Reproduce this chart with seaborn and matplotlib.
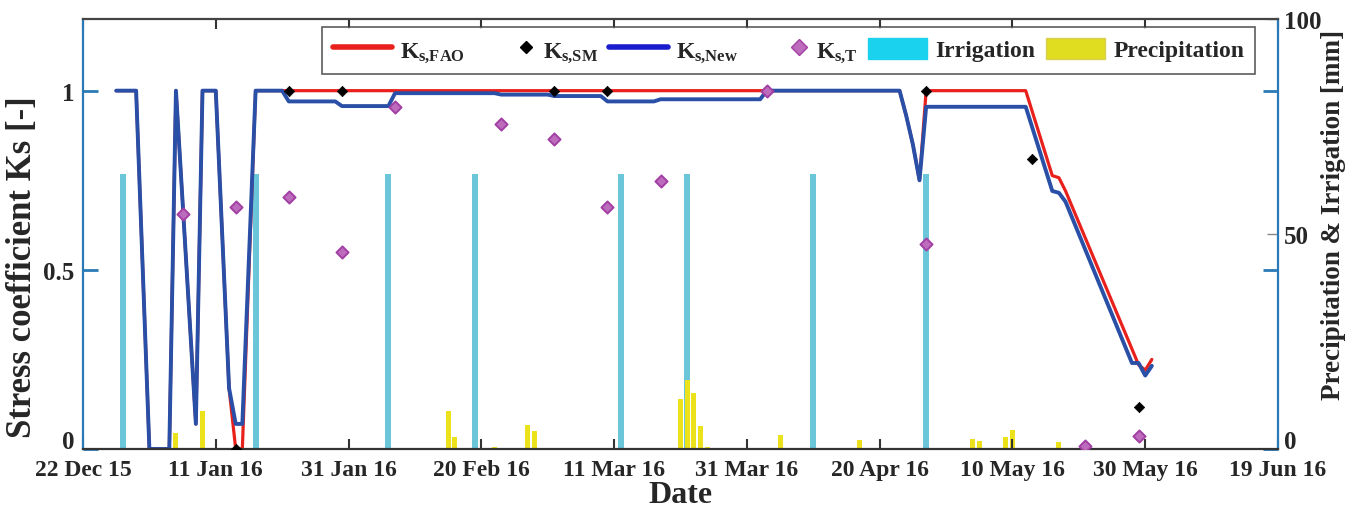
import matplotlib
matplotlib.use("Agg")
import matplotlib.pyplot as plt
import seaborn as sns
import pandas as pd
import numpy as np
from matplotlib.lines import Line2D
from matplotlib.patches import Patch
from matplotlib.legend_handler import HandlerLine2D
from matplotlib.transforms import ScaledTranslation

# ---- data ----
season_start = "2015-12-22"

tick_dates = ["2015-12-22", "2016-01-11", "2016-01-31", "2016-02-20", "2016-03-11",
              "2016-03-31", "2016-04-20", "2016-05-10", "2016-05-30", "2016-06-19"]
tick_labels = ["22 Dec 15", "11 Jan 16", "31 Jan 16", "20 Feb 16", "11 Mar 16",
               "31 Mar 16", "20 Apr 16", "10 May 16", "30 May 16", "19 Jun 16"]

# Ks,New (blue) breakpoints
new_dates = ["2015-12-27", "2015-12-30", "2016-01-01", "2016-01-04", "2016-01-05",
             "2016-01-08", "2016-01-09", "2016-01-11", "2016-01-13", "2016-01-14",
             "2016-01-15", "2016-01-17", "2016-01-21", "2016-01-22", "2016-01-29",
             "2016-01-30", "2016-02-06", "2016-02-07", "2016-02-22", "2016-02-23",
             "2016-03-01", "2016-03-02", "2016-03-09", "2016-03-10", "2016-03-17",
             "2016-03-18", "2016-04-02", "2016-04-03", "2016-04-23", "2016-04-24",
             "2016-04-25", "2016-04-26", "2016-04-27", "2016-05-12", "2016-05-16",
             "2016-05-17", "2016-05-18", "2016-05-28", "2016-05-29", "2016-05-30",
             "2016-05-31"]
new_ks = [1.0, 1.0, 0.0, 0.0, 1.0,
          0.07, 1.0, 1.0, 0.17, 0.07,
          0.07, 1.0, 1.0, 0.97, 0.97,
          0.957, 0.957, 0.993, 0.993, 0.989,
          0.989, 0.985, 0.985, 0.97, 0.97,
          0.976, 0.976, 1.0, 1.0, 0.93,
          0.85, 0.75, 0.955, 0.955, 0.72,
          0.715, 0.69, 0.24, 0.24, 0.205,
          0.232]

# Ks,FAO (red) breakpoints
fao_dates = ["2015-12-27", "2015-12-30", "2016-01-01", "2016-01-04", "2016-01-05",
             "2016-01-08", "2016-01-09", "2016-01-11", "2016-01-13", "2016-01-14",
             "2016-01-15", "2016-01-17", "2016-04-23", "2016-04-24", "2016-04-25",
             "2016-04-26", "2016-04-27", "2016-05-12", "2016-05-16", "2016-05-17",
             "2016-05-18", "2016-05-29", "2016-05-30", "2016-05-31"]
fao_ks = [1.0, 1.0, 0.0, 0.0, 1.0,
          0.07, 1.0, 1.0, 0.17, 0.0,
          0.0, 1.0, 1.0, 0.93, 0.85,
          0.75, 1.0, 1.0, 0.763, 0.757,
          0.72, 0.235, 0.22, 0.25]

# Ks,SM (black diamonds)
sm_dates = ["2016-01-14", "2016-01-22", "2016-01-30", "2016-03-02", "2016-03-10",
            "2016-04-27", "2016-05-13", "2016-05-29"]
sm_ks = [0.0, 1.0, 1.0, 1.0, 1.0, 1.0, 0.81, 0.117]

# Ks,T (magenta diamonds)
t_dates = ["2016-01-06", "2016-01-14", "2016-01-22", "2016-01-30", "2016-02-07",
           "2016-02-23", "2016-03-02", "2016-03-10", "2016-03-18", "2016-04-03",
           "2016-04-27", "2016-05-21", "2016-05-29"]
t_ks = [0.656, 0.676, 0.704, 0.55, 0.955,
        0.908, 0.866, 0.676, 0.749, 1.0,
        0.573, 0.008, 0.036]

# irrigation [mm]
irr_dates = ["2015-12-28", "2016-01-17", "2016-02-06", "2016-02-19",
             "2016-03-12", "2016-03-22", "2016-04-10", "2016-04-27"]
irr_mm = [64, 64, 64, 64, 64, 64, 64, 64]

# precipitation [mm]
rain_dates = ["2016-01-05", "2016-01-07", "2016-01-09", "2016-01-11", "2016-02-15",
              "2016-02-16", "2016-02-18", "2016-02-22", "2016-02-27", "2016-02-28",
              "2016-03-03", "2016-03-08", "2016-03-21", "2016-03-22", "2016-03-23",
              "2016-03-24", "2016-03-25", "2016-03-29", "2016-04-05", "2016-04-06",
              "2016-04-08", "2016-04-17", "2016-05-04", "2016-05-05", "2016-05-08",
              "2016-05-09", "2016-05-10", "2016-05-17"]
rain_mm = [3.7, 0.3, 8.8, 0.3, 8.8,
           2.8, 0.3, 0.5, 5.6, 4.2,
           0.3, 0.3, 11.7, 16.0, 13.0,
           5.3, 0.4, 0.3, 3.3, 0.3,
           0.3, 2.0, 2.3, 1.9, 0.3,
           2.8, 4.4, 1.6]


def to_days(dates):
    return (pd.to_datetime(dates) - pd.Timestamp(season_start)).days.to_numpy()


class MarkerRight(HandlerLine2D):
    # put the single legend marker next to its text
    def get_xdata(self, legend, xdescent, ydescent, width, height, fontsize):
        x = -xdescent + width - 0.35 * fontsize
        return np.array([x, x]), np.array([x])


# ---- style ----
sns.set_style("white")
plt.rcParams["font.family"] = ["Liberation Serif", "DejaVu Serif"]
plt.rcParams["font.weight"] = "bold"
plt.rcParams["axes.labelweight"] = "bold"
plt.rcParams["mathtext.fontset"] = "custom"
plt.rcParams["mathtext.rm"] = "Liberation Serif:bold"
plt.rcParams["mathtext.it"] = "Liberation Serif:bold"
plt.rcParams["mathtext.bf"] = "Liberation Serif:bold"

RED = "#e8211d"
BLUE = "#2a4fa6"
CYAN = "#6cc6da"
YELLOW = "#ece21c"
AXBLUE = "#2a7ab8"
T_FACE = "#bd6cbd"
T_EDGE = "#a23fa4"

fig = plt.figure(figsize=(13.58, 5.10), dpi=100)
ax = fig.add_axes([83 / 1358, 60 / 510, 1195 / 1358, 430 / 510])
ax2 = ax.twinx()
ax.set_zorder(ax2.get_zorder() + 1)
ax.patch.set_visible(False)
ax2.patch.set_visible(True)
ax2.patch.set_facecolor("white")

# bars on the right (mm) axis
sns.histplot(x=to_days(irr_dates), weights=irr_mm, discrete=True, shrink=0.9,
             color=CYAN, alpha=1, linewidth=0, ax=ax2)
sns.histplot(x=to_days(rain_dates), weights=rain_mm, discrete=True, shrink=0.75,
             color=YELLOW, alpha=1, linewidth=0, ax=ax2)

# Ks lines and points on the left axis
sns.lineplot(x=to_days(fao_dates), y=fao_ks, estimator=None, sort=False,
             color=RED, linewidth=2.3, ax=ax)
sns.lineplot(x=to_days(new_dates), y=new_ks, estimator=None, sort=False,
             color=BLUE, linewidth=2.8, ax=ax)
sns.scatterplot(x=to_days(t_dates), y=t_ks, marker="D", s=38, color=T_FACE,
                edgecolor=T_EDGE, linewidth=1.4, ax=ax, zorder=5)
sns.scatterplot(x=to_days(sm_dates), y=sm_ks, marker="D", s=28, color="black",
                edgecolor="black", linewidth=0.5, ax=ax, zorder=6)

# axes ranges and ticks
ax.set_xlim(0, 180)
ax.set_ylim(0, 1.2)
ax2.set_ylim(0, 100)

ax.set_xticks(to_days(tick_dates))
ax.set_xticklabels(tick_labels, fontsize=17, fontweight="bold")
ax.set_yticks([0, 0.5, 1])
ax.set_yticklabels(["0", "0.5", "1"], fontsize=18, fontweight="bold")
ax.tick_params(axis="x", direction="in", length=7, width=1.5, color="#333333",
               top=True, bottom=True, pad=7)
ax.tick_params(axis="y", direction="in", length=11, width=2, color=AXBLUE,
               left=True, right=True, labelright=False, pad=6)

ax2.set_yticks([0, 50, 100])
ax2.set_yticklabels(["0", "50", "100"], fontsize=18, fontweight="bold")
ax2.tick_params(axis="y", direction="in", length=8, width=1, color="#888888", pad=4)

# the two "0" labels sit a little above their ticks, as in the source
lift = ScaledTranslation(0, 7 / 72, fig.dpi_scale_trans)
for lbl in (ax.yaxis.get_major_ticks()[0].label1, ax2.yaxis.get_major_ticks()[0].label2):
    lbl.set_transform(lbl.get_transform() + lift)

ax.set_xlabel("Date", fontsize=23, fontweight="bold", labelpad=0)
ax.set_ylabel("Stress coefficient Ks [-]", fontsize=25, fontweight="bold")
ax.yaxis.set_label_coords(-0.037, 0.426)
ax2.set_ylabel("Precipitation & Irrigation [mm]", fontsize=19.5, fontweight="bold")
ax2.yaxis.set_label_coords(1.036, 0.547)

for sp in ax.spines.values():
    sp.set_visible(True)
    sp.set_linewidth(1.6)
ax.spines["left"].set_color(AXBLUE)
ax.spines["right"].set_color(AXBLUE)
ax.spines["top"].set_color("#444444")
ax.spines["bottom"].set_color("#333333")
for sp in ax2.spines.values():
    sp.set_visible(False)

# legend
sm_handle = Line2D([], [], color="black", marker="D", linestyle="none", markersize=6)
t_handle = Line2D([], [], color=T_FACE, marker="D", markeredgecolor=T_EDGE,
                  linestyle="none", markersize=8)
handles = [
    Line2D([], [], color=RED, linewidth=4),
    sm_handle,
    Line2D([], [], color="#1c1ccf", linewidth=4),
    t_handle,
    Patch(facecolor="#1ad2ee", edgecolor="#1ad2ee"),
    Patch(facecolor="#e0dc20", edgecolor="#d8d050"),
]
labels = [r"$K_{s{,}FAO}$", r"$K_{s{,}SM}$", r"$K_{s{,}New}$", r"$K_{s{,}T}$",
          "Irrigation", "Precipitation"]
leg = ax.legend(handles, labels, ncol=6, loc="upper left",
                bbox_to_anchor=(0.2, 0.981), frameon=True, fancybox=False,
                prop={"family": "Liberation Serif", "weight": "bold", "size": 17},
                handlelength=2.5, handleheight=1.0, handletextpad=0.35,
                columnspacing=0.45, borderpad=0.45, borderaxespad=0,
                handler_map={sm_handle: MarkerRight(), t_handle: MarkerRight()})
leg.get_frame().set_edgecolor("#333333")
leg.get_frame().set_linewidth(1.2)

fig.savefig("out.png", dpi=100)
